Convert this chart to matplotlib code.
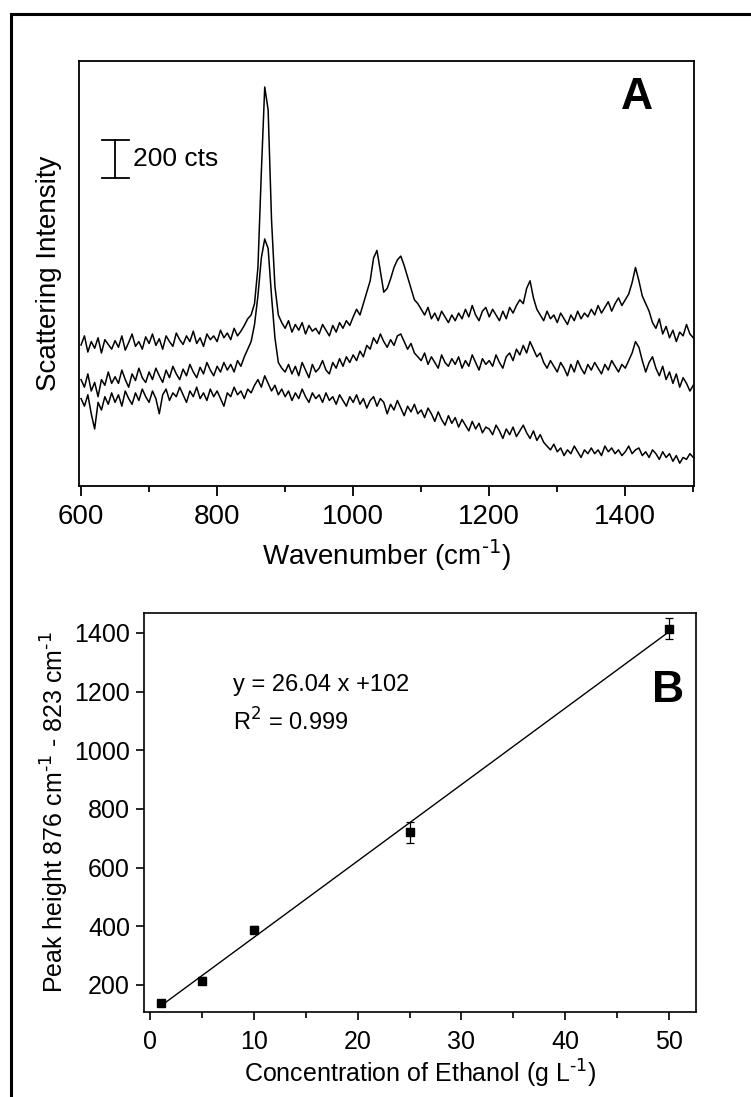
import numpy as np
import matplotlib.pyplot as plt
from matplotlib.lines import Line2D
from matplotlib.ticker import MultipleLocator

plt.rcParams['font.family'] = ['Liberation Sans', 'DejaVu Sans']

# Raman spectra (counts), sampled every 5 cm-1 from 600 to 1500
wavenumber = np.arange(600, 1501, 5)

spec_high = [
    742, 790, 705, 760, 725, 780, 700, 770, 745, 720,
    765, 730, 790, 715, 755, 800, 735, 760, 720, 785,
    750, 800, 740, 775, 720, 790, 760, 735, 805, 770,
    745, 790, 760, 815, 750, 780, 735, 800, 770, 790,
    760, 820, 780, 805, 770, 830, 790, 815, 845, 880,
    900, 960, 1150, 1650, 2100, 1980, 1400, 1050, 900, 860,
    830, 870, 810, 850, 820, 860, 800, 845, 815, 830,
    800, 850, 820, 790, 845, 810, 860, 830, 870, 845,
    890, 930, 900, 960, 1020, 1080, 1200, 1240, 1130, 1020,
    1040, 1090, 1150, 1190, 1210, 1160, 1100, 1040, 980, 960,
    930, 900, 940, 880, 910, 870, 920, 890, 860, 900,
    870, 910, 880, 930, 890, 950, 900, 870, 920, 940,
    890, 930, 900, 870, 920, 880, 940, 910, 950, 980,
    960, 1040, 1080, 990, 930, 900, 870, 920, 880, 900,
    860, 910, 880, 850, 900, 870, 920, 880, 910, 890,
    930, 900, 950, 910, 940, 970, 920, 960, 990, 950,
    980, 1010, 1070, 1150, 1080, 1000, 960, 920, 860, 830,
    880, 800, 840, 780, 820, 760, 810, 790, 850, 800,
    780,
]

spec_mid = [
    560, 520, 590, 500, 545, 470, 560, 530, 600, 540,
    575, 540, 610, 560, 520, 590, 555, 620, 570, 545,
    600, 560, 620, 580, 545, 610, 570, 630, 590, 560,
    615, 580, 640, 600, 570, 625, 590, 650, 610, 580,
    630, 600, 650, 610, 640, 600, 660, 630, 680, 720,
    760, 850, 1000, 1200, 1300, 1250, 1000, 780, 650, 620,
    600, 640, 590, 630, 580, 650, 610, 570, 640, 600,
    620, 660, 610, 590, 650, 620, 670, 630, 680, 650,
    690, 660, 710, 680, 740, 720, 780, 750, 800, 760,
    730, 770, 740, 790, 800, 760, 720, 750, 700, 680,
    660, 700, 640, 680, 650, 620, 690, 650, 630, 670,
    640, 680, 620, 660, 630, 690, 650, 610, 670, 640,
    660, 630, 690, 650, 620, 680, 700, 660, 720, 690,
    740, 700, 760, 720, 680, 700, 650, 620, 660, 630,
    600, 650, 620, 580, 640, 600, 660, 620, 590, 640,
    610, 650, 620, 590, 640, 610, 660, 630, 600, 640,
    620, 660, 700, 760, 730, 660, 600, 650, 680, 620,
    580, 630, 560, 600, 540, 590, 520, 570, 540, 500,
    530,
]

spec_low = [
    460, 420, 480, 380, 300, 440, 400, 470, 430, 490,
    440, 480, 420, 500, 460, 430, 490, 450, 510, 470,
    440, 500, 460, 380, 480, 510, 450, 490, 470, 520,
    480, 440, 500, 470, 520, 460, 490, 450, 510, 470,
    500, 460, 420, 490, 470, 520, 480, 500, 460, 510,
    490, 530, 560, 520, 580, 540, 500, 530, 480, 510,
    470, 500, 450, 490, 460, 510, 470, 440, 490, 460,
    480, 440, 490, 450, 470, 430, 480, 450, 420, 470,
    440, 480, 430, 460, 410, 450, 470, 420, 460, 440,
    380, 430, 400, 450, 410, 370, 420, 390, 430, 380,
    400, 360, 410, 380, 340, 390, 350, 320, 370, 330,
    360, 310, 350, 320, 290, 340, 300, 330, 280, 310,
    300, 270, 320, 290, 250, 300, 270, 310, 260, 290,
    320, 280, 250, 290, 240, 270, 230, 210, 190, 220,
    180, 200, 160, 190, 170, 210, 180, 150, 190, 170,
    200, 170, 190, 160, 210, 180, 200, 170, 190, 160,
    180, 210, 170, 190, 200, 160, 180, 150, 190, 170,
    140, 180, 150, 170, 130, 160, 120, 150, 140, 170,
    150,
]

# calibration data
conc = [1, 5, 10, 25, 50]
peak_height = [140, 215, 388, 720, 1415]
peak_err = [10, 12, 12, 35, 35]
slope, intercept = 26.04, 102

fig = plt.figure(figsize=(7.51, 10.97), dpi=100)

# outer frame (left and top edges)
fig.add_artist(Line2D([0.0146, 0.0146], [0.9872, 0.0], transform=fig.transFigure,
                      color='black', lw=2.2))
fig.add_artist(Line2D([0.0146, 1.0], [0.9872, 0.9872], transform=fig.transFigure,
                      color='black', lw=2.2))

# ---- panel A ----
axA = fig.add_axes([0.1052, 0.5570, 0.8189, 0.3874])
for s in (spec_high, spec_mid, spec_low):
    axA.plot(wavenumber, s, color='black', lw=1.1)
axA.set_xlim(597, 1501)
axA.set_ylim(0, 2237)
axA.set_yticks([])
axA.xaxis.set_major_locator(MultipleLocator(200))
axA.xaxis.set_minor_locator(MultipleLocator(100))
axA.tick_params(axis='x', which='major', direction='out', length=7, width=1.3,
                labelsize=20, pad=6)
axA.tick_params(axis='x', which='minor', direction='out', length=4, width=1.3)
for sp in axA.spines.values():
    sp.set_linewidth(1.3)
axA.set_xlabel(r'Wavenumber (cm$^{\text{-}1}$)', fontsize=20, labelpad=5)
axA.set_ylabel('Scattering Intensity', fontsize=20, labelpad=12)

# 200 cts scale bar
bar_x, bar_y0, bar_len = 650, 1621, 200
axA.plot([bar_x, bar_x], [bar_y0, bar_y0 + bar_len], color='black', lw=1.3)
axA.plot([bar_x - 19, bar_x + 20], [bar_y0, bar_y0], color='black', lw=1.3)
axA.plot([bar_x - 19, bar_x + 20], [bar_y0 + bar_len, bar_y0 + bar_len], color='black', lw=1.3)
axA.text(bar_x + 26, bar_y0 + bar_len / 2, '200 cts', fontsize=19, va='center', ha='left')
axA.text(0.907, 0.915, 'A', transform=axA.transAxes, fontsize=32, fontweight='bold',
         ha='center', va='center')

# ---- panel B ----
axB = fig.add_axes([0.1917, 0.0775, 0.7350, 0.3637])
fit_x = np.array([conc[0], conc[-1]])
axB.plot(fit_x, slope * fit_x + intercept, color='black', lw=1.0)
axB.errorbar(conc, peak_height, yerr=peak_err, fmt='s', color='black', ms=5.5,
             capsize=3, elinewidth=0.9, capthick=0.9)
axB.set_xlim(-0.6, 52.6)
axB.set_ylim(108, 1468)
axB.xaxis.set_major_locator(MultipleLocator(10))
axB.xaxis.set_minor_locator(MultipleLocator(5))
axB.set_yticks([200, 400, 600, 800, 1000, 1200, 1400])
axB.tick_params(which='major', direction='out', length=6, width=1.2, labelsize=18, pad=4)
axB.tick_params(axis='x', which='major', pad=7)
axB.tick_params(which='minor', direction='out', length=4, width=1.2)
for sp in axB.spines.values():
    sp.set_linewidth(1.2)
axB.set_xlabel(r'Concentration of Ethanol (g L$^{\text{-}1}$)', fontsize=18, labelpad=3)
axB.set_ylabel(r'Peak height 876 cm$^{\text{-}1}$ - 823 cm$^{\text{-}1}$', fontsize=18,
               labelpad=2)
axB.text(0.161, 0.82, 'y = 26.04 x +102', transform=axB.transAxes, fontsize=17,
         ha='left', va='center')
axB.text(0.161, 0.727, 'R$^2$ = 0.999', transform=axB.transAxes, fontsize=17,
         ha='left', va='center')
axB.text(0.949, 0.807, 'B', transform=axB.transAxes, fontsize=32, fontweight='bold',
         ha='center', va='center')

fig.savefig('out.png', dpi=100)
